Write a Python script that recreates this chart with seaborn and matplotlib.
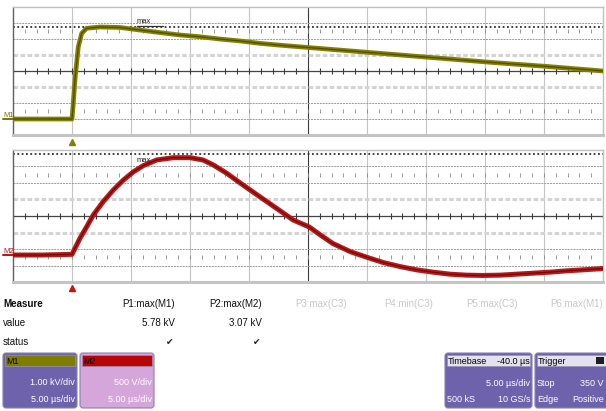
import numpy as np
import pandas as pd
import matplotlib
matplotlib.use("Agg")
import matplotlib.pyplot as plt
import matplotlib.transforms as mtrans
from matplotlib.patches import FancyBboxPatch, Rectangle
import seaborn as sns

# ---------------- data ----------------
# time in microseconds relative to trigger, 5 us/div, 10 divisions
t_m1 = [-5, -2.5, 0, 0.1, 0.25, 0.53, 0.82, 1.24, 2.37, 4.07, 5.76, 7.46, 9.15, 10.85,
        12.5, 14.2, 15.9, 17.5, 20, 22.5, 25, 27.5, 30, 32.5, 35, 37.5, 40, 42.5, 45]
m1_kv = [0, 0, 0, 0.9, 2.44, 4.5, 5.35, 5.67, 5.75, 5.72, 5.56, 5.40, 5.25, 5.14,
         5.00, 4.88, 4.73, 4.62, 4.47, 4.32, 4.17, 4.02, 3.87, 3.72, 3.57, 3.43, 3.30, 3.15, 3.00]

t_m2 = [-5, -2.5, 0, 0.68, 1.25, 1.8, 2.65, 3.5, 4.35, 5.2, 6.05, 7.18, 8.58, 10.0,
        11.1, 11.97, 13.1, 14.5, 15.9, 17.35, 18.75, 20.1, 21.0, 22.1, 23.6, 25, 26.4,
        27.8, 29.2, 30.6, 32, 33.4, 34.8, 36.3, 37.7, 39.1, 40.5, 41.9, 43.3, 45]
m2_kv = [0, 0, 0.02, 0.51, 0.86, 1.21, 1.62, 1.97, 2.27, 2.52, 2.71, 2.88, 2.95, 2.95,
         2.88, 2.73, 2.48, 2.12, 1.77, 1.41, 1.06, 0.85, 0.62, 0.35, 0.10, -0.07, -0.23,
         -0.35, -0.45, -0.52, -0.58, -0.61, -0.62, -0.61, -0.58, -0.55, -0.52, -0.48, -0.45, -0.41]

p_headers = ["P1:max(M1)", "P2:max(M2)", "P3:max(C3)", "P4:min(C3)", "P5:max(C3)", "P6:max(M1)"]
p_values = ["5.78 kV", "3.07 kV"]
max_m1 = 5.78
max_m2 = 3.07

# ---------------- style ----------------
sns.set_style("white")
plt.rcParams['font.family'] = ['Liberation Sans', 'DejaVu Sans']

W, H = 606, 411
fig = plt.figure(figsize=(W / 100, H / 100), dpi=100)
fig.patch.set_facecolor("white")

bg = fig.add_axes([0, 0, 1, 1])
bg.set_xlim(0, W)
bg.set_ylim(H, 0)
bg.axis("off")


def panel(x0, y0, x1, y1):
    return fig.add_axes([x0 / W, 1 - y1 / H, (x1 - x0) / W, (y1 - y0) / H])


ax1 = panel(13, 7, 603, 135)
ax2 = panel(13, 150, 603, 282)


def scope_grid(ax, ylo, vdiv):
    ax.set_xlim(-5, 45)
    ax.set_ylim(ylo, ylo + 8 * vdiv)
    for k in range(1, 10):
        x = -5 + 5 * k
        ax.axvline(x, color="#3a3a3a" if k == 5 else "#c4c4c4", lw=0.8, zorder=1)
    center = ylo + 4 * vdiv
    for k in range(1, 8):
        y = ylo + k * vdiv
        if k == 4:
            ax.axhline(y, color="#454545", lw=0.9, zorder=1)
        elif k in (3, 5):
            ax.axhline(y, color="#d4d4d4", lw=2.2, ls=(0, (1.5, 0.8)), zorder=1)
        else:
            ax.axhline(y, color="#999999", lw=0.7, ls=(0, (2, 1)), zorder=1)
    xs = np.arange(-5, 45.01, 1.0)
    ax.plot(xs, np.full_like(xs, center), ls="none", marker="|", ms=4.5,
            mew=0.8, color="#3a3a3a", zorder=1)
    for off in (-2.5, 2.5):
        ax.plot(xs, np.full_like(xs, center + off * vdiv), ls="none", marker="|",
                ms=2.2, mew=0.6, color="#8a8a8a", zorder=1)
    for side in ("top", "right"):
        ax.spines[side].set_color("#c0c0c0")
        ax.spines[side].set_linewidth(1.0)
    ax.spines["left"].set_color("#606060")
    ax.spines["left"].set_linewidth(1.0)
    ax.spines["bottom"].set_color("#c4c4c4")
    ax.spines["bottom"].set_linewidth(2.2)


scope_grid(ax1, -1.0, 1.0)
scope_grid(ax2, -0.818, 0.5)

df1 = pd.DataFrame({"t": t_m1, "v": m1_kv})
df2 = pd.DataFrame({"t": t_m2, "v": m2_kv})

sns.lineplot(data=df1, x="t", y="v", ax=ax1, color="#858000", lw=3.4, zorder=3)
sns.lineplot(data=df1, x="t", y="v", ax=ax1, color="#4f4b00", lw=0.9, zorder=4)
sns.lineplot(data=df2, x="t", y="v", ax=ax2, color="#b51a1a", lw=3.6, zorder=3)
sns.lineplot(data=df2, x="t", y="v", ax=ax2, color="#7a0505", lw=0.9, zorder=4)

for ax in (ax1, ax2):
    ax.set_xlabel("")
    ax.set_ylabel("")
    ax.set_xticks([])
    ax.set_yticks([])

# max level markers
ax1.axhline(max_m1, color="#303030", lw=1.3, ls=(0, (1, 1.4)), zorder=2)
ax2.axhline(max_m2, color="#303030", lw=1.3, ls=(0, (1, 1.4)), zorder=2)
ax1.plot([5.5, 7.7], [max_m1 + 0.05, max_m1 + 0.05], color="#303030", lw=0.9, zorder=5)
ax1.text(5.5, max_m1 + 0.12, "max", fontsize=5.5, color="#202020", ha="left", va="bottom", zorder=5)
ax2.text(5.5, max_m2 - 0.2, "max", fontsize=5.5, color="#202020", ha="left", va="center", zorder=5)

# trigger markers
ax1.plot([0], [-0.055], marker="^", ms=5, color="#857f00", transform=ax1.get_xaxis_transform(),
         clip_on=False, ls="none")
ax2.plot([0], [-0.045], marker="^", ms=5, color="#d01010", transform=ax2.get_xaxis_transform(),
         clip_on=False, ls="none")

# channel ground labels
for ax, lab, col in ((ax1, "M1", "#7a7500"), (ax2, "M2", "#c01010")):
    tr = mtrans.blended_transform_factory(ax.transAxes, ax.transData)
    ax.plot([-0.017, 0.0], [0, 0], color=col, lw=1.4, transform=tr, clip_on=False)
    ax.text(-0.017, 0, lab, color=col, fontsize=5.5, transform=tr, ha="left",
            va="bottom", clip_on=False)

# ---------------- measurement table ----------------
fs = 7
bg.text(3, 304, "Measure", fontsize=fs, fontweight="bold", ha="left", va="center", color="#101010")
bg.text(3, 323, "value", fontsize=fs, ha="left", va="center", color="#101010")
bg.text(3, 342, "status", fontsize=fs, ha="left", va="center", color="#101010")
col_right = [175, 262, 347, 433, 518, 603]
for i, (xr, h) in enumerate(zip(col_right, p_headers)):
    bg.text(xr, 304, h, fontsize=fs, ha="right", va="center",
            color="#101010" if i < 2 else "#c8c8c8")
for xr, v in zip(col_right, p_values):
    bg.text(xr, 323, v, fontsize=fs, ha="right", va="center", color="#101010")
    bg.text(xr - 5, 342, "\u2714", fontsize=6.5, ha="center", va="center",
            color="#202020", family="DejaVu Sans")


# ---------------- info boxes ----------------
def box(x0, x1, body, head, head_text, head_text_col="black"):
    bg.add_patch(FancyBboxPatch((x0, 353), x1 - x0, 55, boxstyle="round,pad=0,rounding_size=3",
                                fc=body, ec="#8a80b0", lw=0.8))
    bg.add_patch(Rectangle((x0 + 2, 355), x1 - x0 - 4, 11, fc=head, ec="#9a90b8", lw=0.5))
    bg.text(x0 + 3, 361, head_text, fontsize=6.5, ha="left", va="center", color=head_text_col)


box(3, 77, "#6e62ac", "#7f7d00", "M1")
bg.text(75, 382, "1.00 kV/div", fontsize=6.5, ha="right", va="center", color="white")
bg.text(75, 399, "5.00 \u00b5s/div", fontsize=6.5, ha="right", va="center", color="white")

box(80, 154, "#d4a6da", "#b80606", "M2")
bg.text(152, 382, "500 V/div", fontsize=6.5, ha="right", va="center", color="white")
bg.text(152, 399, "5.00 \u00b5s/div", fontsize=6.5, ha="right", va="center", color="white")

box(445, 532, "#6e62ac", "#e4e2ec", "Timebase")
bg.text(530, 361, "-40.0 \u00b5s", fontsize=6.5, ha="right", va="center", color="black")
bg.text(530, 383, "5.00 \u00b5s/div", fontsize=6.5, ha="right", va="center", color="white")
bg.text(447, 399, "500 kS", fontsize=6.5, ha="left", va="center", color="white")
bg.text(530, 399, "10 GS/s", fontsize=6.5, ha="right", va="center", color="white")

box(535, 612, "#6e62ac", "#e4e2ec", "Trigger")
bg.add_patch(Rectangle((596, 357), 8, 7, fc="#202020", ec="none"))
bg.text(537, 383, "Stop", fontsize=6.5, ha="left", va="center", color="white")
bg.text(604, 383, "350 V", fontsize=6.5, ha="right", va="center", color="white")
bg.text(537, 399, "Edge", fontsize=6.5, ha="left", va="center", color="white")
bg.text(604, 399, "Positive", fontsize=6.5, ha="right", va="center", color="white")

fig.savefig("out.png", dpi=100, facecolor="white")
